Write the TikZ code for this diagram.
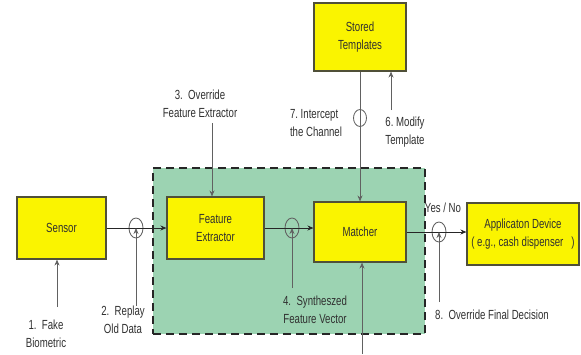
\documentclass[tikz,border=0pt]{standalone}
\usepackage{fontspec}
\setmainfont{Liberation Sans}[FakeStretch=0.73]
\usetikzlibrary{arrows.meta,shapes.geometric}
\definecolor{boxyellow}{RGB}{250,244,0}
\definecolor{zonegreen}{RGB}{156,211,178}
\definecolor{inkgray}{RGB}{48,48,48}
\definecolor{edgegray}{RGB}{80,80,56}

\begin{document}
\begin{tikzpicture}[x=1pt,y=-1pt,
  font=\fontsize{13.2}{17.5}\selectfont, text=inkgray,
  block/.style={draw=edgegray, line width=1.1pt, fill=boxyellow, inner sep=0pt, align=center},
  flow/.style={draw=black!85, line width=1pt, -{Stealth[length=6pt,width=5pt]}},
  attack/.style={draw=black!62, line width=0.85pt, -{Stealth[length=6pt,width=5pt]}},
  tap/.style={draw=black!62, line width=0.85pt, ellipse, minimum width=14pt, minimum height=20pt, inner sep=0pt},
  lbl/.style={align=center, inner sep=0pt}]

\useasboundingbox (0,0) rectangle (581,354);

% protected processing zone
\node[fill=zonegreen, draw=black!85, line width=1.8pt, dash pattern=on 8pt off 5pt,
      minimum width=272pt, minimum height=166pt, inner sep=0pt] (zone) at (289,251) {};

% system blocks
\node[block, minimum width=89pt, minimum height=62pt] (sensor) at (61.5,228) {Sensor};
\node[block, minimum width=97pt, minimum height=62pt] (fe) at (215.5,228) {Feature\\Extractor};
\node[block, minimum width=92pt, minimum height=60pt] (matcher) at (360,232) {Matcher};
\node[block, minimum width=92pt, minimum height=68pt] (stored) at (360,37) {Stored\\Templates};
\node[block, minimum width=112pt, minimum height=62pt] (app) at (523,234)
  {Applicaton Device\\( e.g., cash dispenser \ \ )};

% tap points on the channels
\node[tap] (c2) at (136,228) {};
\node[tap] (c4) at (292,228) {};
\node[tap] (c8) at (439,232) {};
\node[tap, minimum width=13pt, minimum height=17pt] (c7) at (360,118) {};

% main data flow
\draw[flow] (sensor.east) -- (fe.west);
\draw[flow] (fe.east) -- (fe.east -| matcher.west);
\draw[flow] (matcher.east) -- (matcher.east -| app.west);
\draw[attack] (stored.south) -- (matcher.north);

% attack points
\coordinate (f1) at (57,307);
\coordinate (f2) at (136,306);
\coordinate (f3) at (212,123);
\coordinate (f4) at (292,288);
\coordinate (f5) at (362,354);
\coordinate (f6) at (391,110);
\coordinate (f8) at (439,302);
\draw[attack] (f1) -- (f1 |- sensor.south);
\draw[attack] (f2) -- (c2.center);
\draw[attack] (f3) -- (f3 |- fe.north);
\draw[attack] (f4) -- (c4.center);
\draw[attack] (f5) -- (f5 |- matcher.south);
\draw[attack] (f6) -- (f6 |- stored.south);
\draw[attack] (f8) -- (c8.center);

% labels
\node[lbl] (l1) at (46,334) {1.\ \ Fake\\Biometric};
\node[lbl] (l2) at (123,320) {2.\ \ Replay\\Old Data};
\node[lbl] (l3) at (200,104) {3.\ \ Override\\Feature Extractor};
\node[lbl] (l4) at (315,310) {4.\ \ Syntheszed\\Feature Vector};
\node[lbl, align=left] (l7) at (316,123) {7.\ Intercept\\the Channel};
\node[lbl, align=left] (l6) at (405,132) {6.\ Modify\\Template};
\node[lbl] (yn) at (443,208) {Yes / No};
\node[lbl, anchor=west] (l8) at (435,315) {8.\ \ Override Final Decision};
\end{tikzpicture}
\end{document}
